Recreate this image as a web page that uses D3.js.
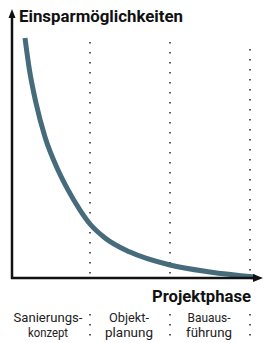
<!DOCTYPE html>
<html>
<head>
<meta charset="utf-8">
<script src="https://cdn.jsdelivr.net/npm/d3@7"></script>
<style>
  body { margin: 0; background: #fff; }
  svg text { font-family: "Roboto", "Liberation Sans", sans-serif; }
</style>
</head>
<body>
<svg id="chart" width="270" height="343"></svg>
<script>
// phases along the x axis (0..3), savings potential 0..100
var phases = ["Sanierungs-\nkonzept", "Objekt-\nplanung", "Bauaus-\nführung"];
var phaseEnds = [1, 2, 3];
var curveX = [0.1875, 0.2375, 0.325, 0.4375, 0.6, 0.725, 0.875, 1.0, 1.1875, 1.5, 2.0, 2.5, 3.0625];
var curveY = [100, 87.9, 72.9, 58.75, 45, 36.7, 28.3, 22.5, 16.7, 10.8, 5.4, 2.5, 0.4];
var yTitle = "Einsparmöglichkeiten";
var xTitle = "Projektphase";

var svg = d3.select("#chart");
var x = d3.scaleLinear().domain([0, 3]).range([10, 250]);
var y = d3.scaleLinear().domain([0, 100]).range([278, 38]);

// dotted phase separators
var dotStart = [42, 42, 49];
phaseEnds.forEach(function(p, i) {
  svg.append("line")
    .attr("x1", x(p)).attr("x2", x(p))
    .attr("y1", dotStart[i]).attr("y2", 276)
    .attr("stroke", "#333").attr("stroke-width", 1.6)
    .attr("stroke-dasharray", "1.6,8.4");
  svg.append("line")
    .attr("x1", x(p)).attr("x2", x(p))
    .attr("y1", 314).attr("y2", 340)
    .attr("stroke", "#333").attr("stroke-width", 1.6)
    .attr("stroke-dasharray", "1.6,8.4");
});

// savings curve
var pts = curveX.map(function(v, i) { return [v, curveY[i]]; });
svg.append("path")
  .datum(pts)
  .attr("fill", "none")
  .attr("stroke", "#466b7b")
  .attr("stroke-width", 5)
  .attr("d", d3.line().x(function(d) { return x(d[0]); }).y(function(d) { return y(d[1]); }).curve(d3.curveMonotoneX));

// axes with arrows
svg.append("line").attr("x1", 12).attr("x2", 12).attr("y1", 279).attr("y2", 16)
  .attr("stroke", "#111").attr("stroke-width", 2.5);
svg.append("path").attr("d", "M12,9 L8.5,18 L15.5,18 Z").attr("fill", "#111");
svg.append("line").attr("x1", 11).attr("x2", 254).attr("y1", 278).attr("y2", 278)
  .attr("stroke", "#111").attr("stroke-width", 2.5);
svg.append("path").attr("d", "M263,278 L253,274 L253,282 Z").attr("fill", "#111");

svg.append("text").attr("x", 19).attr("y", 22)
  .attr("font-size", 17).attr("font-weight", "bold").attr("fill", "#111")
  .attr("textLength", 164).attr("lengthAdjust", "spacingAndGlyphs").text(yTitle);
svg.append("text").attr("x", 152).attr("y", 302)
  .attr("font-size", 17).attr("font-weight", "bold").attr("fill", "#111")
  .attr("textLength", 99).attr("lengthAdjust", "spacingAndGlyphs").text(xTitle);

// phase labels
var centers = [48, 129, 209];
var widths = [[69, 40], [40, 48], [43, 46]];
phases.forEach(function(p, i) {
  p.split("\n").forEach(function(line, j) {
    svg.append("text").attr("x", centers[i] - widths[i][j] / 2).attr("y", 322 + j * 15)
      .attr("font-size", 13.5).attr("fill", "#222")
      .attr("textLength", widths[i][j]).attr("lengthAdjust", "spacingAndGlyphs")
      .text(line);
  });
});
</script>
</body>
</html>
